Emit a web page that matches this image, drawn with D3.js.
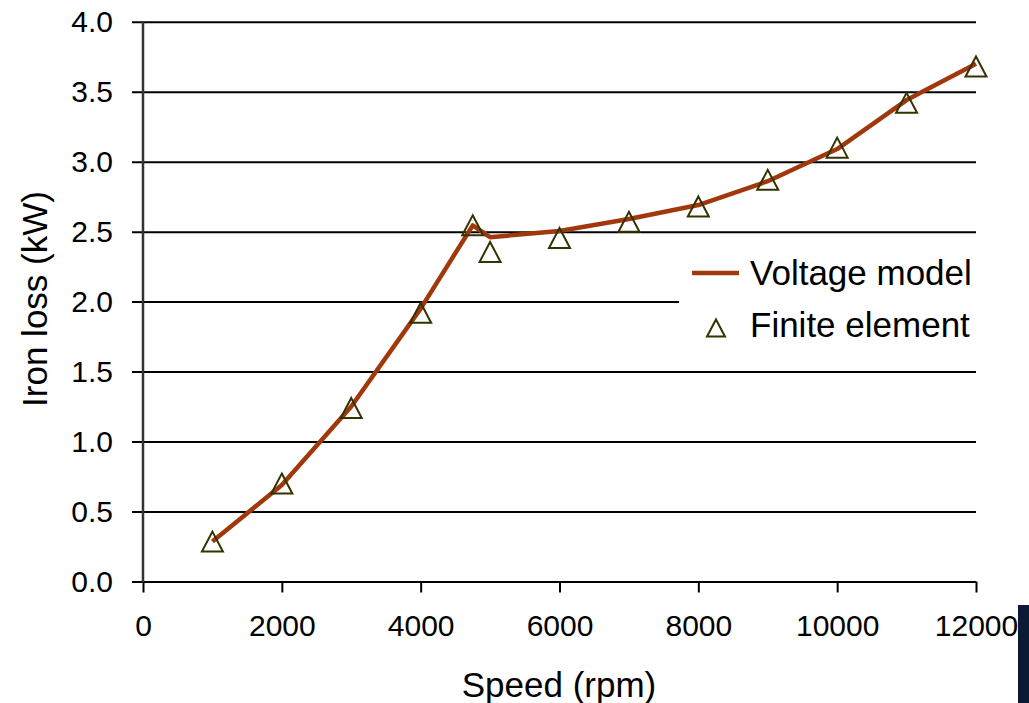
<!DOCTYPE html>
<html>
<head>
<meta charset="utf-8">
<script src="https://cdn.jsdelivr.net/npm/d3@7"></script>
<style>
  body { margin: 0; background: #fff; }
  text { font-family: "Liberation Sans", Arial, sans-serif; fill: #000; }
</style>
</head>
<body>
<div id="chart"></div>
<script>
// Data
const modelSpeed = [1000, 2000, 3000, 4000, 4750, 5000, 6000, 7000, 8000, 9000, 10000, 11000, 12000];
const modelLoss  = [0.285, 0.69, 1.25, 1.95, 2.545, 2.46, 2.505, 2.59, 2.69, 2.86, 3.09, 3.44, 3.70];
const feSpeed = [1000, 2000, 3000, 4000, 4750, 5000, 6000, 7000, 8000, 9000, 10000, 11000, 12000];
const feLoss  = [0.285, 0.70, 1.24, 1.92, 2.545, 2.355, 2.455, 2.57, 2.68, 2.87, 3.10, 3.42, 3.68];
const xTicks = [0, 2000, 4000, 6000, 8000, 10000, 12000];
const yTicks = [0, 0.5, 1.0, 1.5, 2.0, 2.5, 3.0, 3.5, 4.0];

const lineColor = "#a0380c";
const markerColor = "#333300";

const W = 1029, H = 703;
const x0 = 143, x1 = 976, y0 = 581.5, y1 = 21.7;

const svg = d3.select("#chart").append("svg")
    .attr("width", W)
    .attr("height", H);

const x = d3.scaleLinear().domain([0, 12000]).range([x0, x1]);
const y = d3.scaleLinear().domain([0, 4]).range([y0, y1]);

// Gridlines + y ticks: axis placed on the right edge so lines run leftwards
const yAxis = svg.append("g")
    .attr("transform", `translate(${x1},0)`)
    .call(d3.axisLeft(y).tickValues(yTicks).tickFormat(d3.format(".1f"))
        .tickSize(x1 - 132).tickPadding(19));
yAxis.select(".domain").remove();
yAxis.selectAll(".tick line").attr("stroke", "#000").attr("stroke-width", 2);
yAxis.selectAll(".tick text").style("font-size", "30px");

// x axis ticks
const xAxis = svg.append("g")
    .attr("transform", `translate(0,${y0})`)
    .call(d3.axisBottom(x).tickValues(xTicks).tickFormat(d3.format("d"))
        .tickSize(11).tickPadding(22));
xAxis.select(".domain").remove();
xAxis.selectAll(".tick line").attr("stroke", "#000").attr("stroke-width", 2);
xAxis.selectAll(".tick text").style("font-size", "30px");

// y axis line
svg.append("line")
    .attr("x1", x0).attr("x2", x0)
    .attr("y1", y1).attr("y2", y0 + 1)
    .attr("stroke", "#333").attr("stroke-width", 2.5);

// Legend background covers part of the 2.0 gridline
svg.append("rect")
    .attr("x", 679).attr("y", 246)
    .attr("width", 300).attr("height", 110)
    .attr("fill", "#fff");

// Voltage model line
const line = d3.line()
    .x((d, i) => x(modelSpeed[i]))
    .y(d => y(d));
svg.append("path")
    .datum(modelLoss)
    .attr("d", line)
    .attr("fill", "none")
    .attr("stroke", lineColor)
    .attr("stroke-width", 4.5)
    .attr("stroke-linejoin", "round");

// Finite element triangles
const tri = "M0,-10L10.5,10L-10.5,10Z";
svg.selectAll(".fe")
    .data(feLoss)
    .enter().append("path")
    .attr("class", "fe")
    .attr("d", tri)
    .attr("transform", (d, i) => `translate(${x(feSpeed[i])},${y(d)})`)
    .attr("fill", "none")
    .attr("stroke", markerColor)
    .attr("stroke-width", 2);

// Legend
svg.append("line")
    .attr("x1", 692).attr("x2", 739)
    .attr("y1", 273).attr("y2", 273)
    .attr("stroke", lineColor).attr("stroke-width", 4.5);
svg.append("text")
    .attr("x", 750).attr("y", 285)
    .style("font-size", "35px")
    .text("Voltage model");
svg.append("path")
    .attr("d", "M0,-8.5L9,8.5L-9,8.5Z")
    .attr("transform", "translate(716,328)")
    .attr("fill", "none")
    .attr("stroke", markerColor)
    .attr("stroke-width", 2);
svg.append("text")
    .attr("x", 750).attr("y", 337)
    .style("font-size", "35px")
    .text("Finite element");

// Axis titles
svg.append("text")
    .attr("x", 559).attr("y", 697)
    .attr("text-anchor", "middle")
    .style("font-size", "35px")
    .text("Speed (rpm)");
svg.append("text")
    .attr("transform", "translate(47,299) rotate(-90)")
    .attr("text-anchor", "middle")
    .style("font-size", "35px")
    .text("Iron loss (kW)");

// Edge of a neighbouring picture on the slide
svg.append("rect")
    .attr("x", 1018).attr("y", 605)
    .attr("width", 11).attr("height", 98)
    .attr("fill", "#0d1a33");
</script>
</body>
</html>
